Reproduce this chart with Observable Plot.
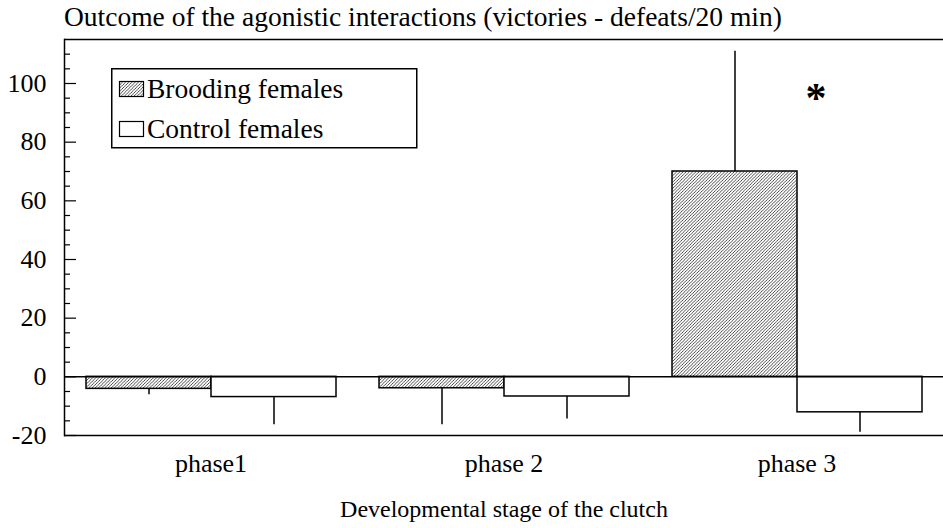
<!DOCTYPE html>
<html>
<head>
<meta charset="utf-8">
<script src="https://cdn.jsdelivr.net/npm/d3@7"></script>
<script src="https://cdn.jsdelivr.net/npm/@observablehq/plot@0.6"></script>
<style>
  html, body { margin: 0; padding: 0; background: #fff; }
  #wrap { position: relative; width: 943px; height: 528px; font-family: "Liberation Serif", "Times New Roman", serif; }
  #title { position: absolute; left: 64px; top: 3px; font-size: 27.5px; line-height: 27.5px; color: #000; white-space: nowrap; }
  #legend { position: absolute; left: 111px; top: 68px; }
</style>
</head>
<body>
<div id="wrap">
  <div id="title">Outcome of the agonistic interactions (victories - defeats/20 min)</div>
</div>
<script>
// ---- data ----
const phases = ["phase1", "phase 2", "phase 3"];
const groups = ["Brooding", "Control"];
const groupLabels = ["Brooding females", "Control females"];
const broodingMeans = [-4.1, -3.9, 70.0];
const broodingErr = [2.0, 12.4, 41.0];
const controlMeans = [-6.9, -6.7, -12.1];
const controlErr = [9.4, 7.7, 6.8];
const yTicks = [-20, 0, 20, 40, 60, 80, 100];
const yMinorTicks = [-15, -10, -5, 5, 10, 15, 25, 30, 35, 45, 50, 55, 65, 70, 75, 85, 90, 95, 105, 110];
const significance = [{phase: "phase 3", group: "Control", y: 95, label: "*"}];
const xTitle = "Developmental stage of the clutch";

const data = phases.flatMap((p, i) => [
  {phase: p, group: groups[0], value: broodingMeans[i], err: broodingErr[i]},
  {phase: p, group: groups[1], value: controlMeans[i], err: controlErr[i]}
]);

const fontStack = "'Liberation Serif', 'Times New Roman', serif";

const svg = Plot.plot({
  width: 943,
  height: 528,
  marginTop: 39,
  marginBottom: 93,
  marginLeft: 64,
  marginRight: 0,
  style: {fontFamily: fontStack, fontSize: "26px", color: "#000", background: "#fff", overflow: "visible"},
  fx: {domain: phases, paddingInner: 0, paddingOuter: 0},
  x: {domain: groups, paddingInner: 0, paddingOuter: 0.172, axis: null},
  y: {domain: [-20, 115], axis: null},
  color: {domain: groups, range: ["url(#hatch)", "#ffffff"]},
  marks: [
    Plot.barY(data, {fx: "phase", x: "group", y: "value", fill: "group", stroke: "#000", strokeWidth: 1.5}),
    Plot.ruleX(data, {fx: "phase", x: "group", y1: "value", y2: d => d.value + Math.sign(d.value) * d.err, stroke: "#000", strokeWidth: 1.5}),
    Plot.ruleY([0], {stroke: "#000", strokeWidth: 1.5}),
    Plot.ruleY([-20], {stroke: "#000", strokeWidth: 1.5}),
    Plot.ruleY([115], {stroke: "#000", strokeWidth: 1.5}),
    Plot.frame({anchor: "left", facetAnchor: "left", stroke: "#000", strokeWidth: 1.5}),
    Plot.axisY({ticks: yTicks, tickSize: 0, tickPadding: 18, fontSize: 26, fontFamily: fontStack,
      tickFormat: d => (d < 0 ? "-" + Math.abs(d) : String(d))}),
    Plot.axisY({ticks: yTicks, tickSize: 12, insetLeft: 12, text: null, strokeWidth: 1.2}),
    Plot.axisY({ticks: yMinorTicks, tickSize: 6, insetLeft: 6, text: null, strokeWidth: 1.2}),
    Plot.axisFx({anchor: "bottom", tickSize: 0, tickPadding: 18, fontSize: 26, fontFamily: fontStack, label: null}),
    Plot.axisFx({anchor: "bottom", tickSize: 0, text: null, fontSize: 24, fontFamily: fontStack, label: xTitle, labelAnchor: "center", labelOffset: 81, labelArrow: "none"}),
    Plot.text(significance, {fx: "phase", x: "group", y: "y", text: "label", dx: -44, fontSize: 42, fontWeight: "bold", fill: "#000"})
  ]
});

// hatch pattern definition
const ns = "http://www.w3.org/2000/svg";
const defs = document.createElementNS(ns, "defs");
defs.innerHTML = `<pattern id="hatch" patternUnits="userSpaceOnUse" width="3.2" height="3.2">
  <rect width="3.2" height="3.2" fill="#fff"/>
  <path d="M-1,1 l2,-2 M0,3.2 l3.2,-3.2 M2.2,4.2 l2,-2" stroke="#000" stroke-width="0.7"/>
</pattern>`;
svg.insertBefore(defs, svg.firstChild);
svg.style.position = "absolute";
svg.style.left = "0";
svg.style.top = "0";
document.getElementById("wrap").prepend(svg);

// legend
const lg = d3.select("#wrap").append("svg")
  .attr("id", "legend")
  .attr("width", 308).attr("height", 82)
  .style("font-family", fontStack)
  .style("font-size", "27.5px");
lg.append("rect").attr("x", 0.75).attr("y", 0.75).attr("width", 305).attr("height", 79)
  .attr("fill", "#fff").attr("stroke", "#000").attr("stroke-width", 1.5);
const rows = [{label: groupLabels[0], fill: "url(#hatch)", y: 30}, {label: groupLabels[1], fill: "#fff", y: 70}];
rows.forEach(r => {
  lg.append("rect").attr("x", 8.5).attr("y", r.y - 16.5).attr("width", 24).attr("height", 15)
    .attr("fill", r.fill).attr("stroke", "#000").attr("stroke-width", 1.2);
  lg.append("text").attr("x", 36).attr("y", r.y).attr("fill", "#000").text(r.label);
});
</script>
</body>
</html>
